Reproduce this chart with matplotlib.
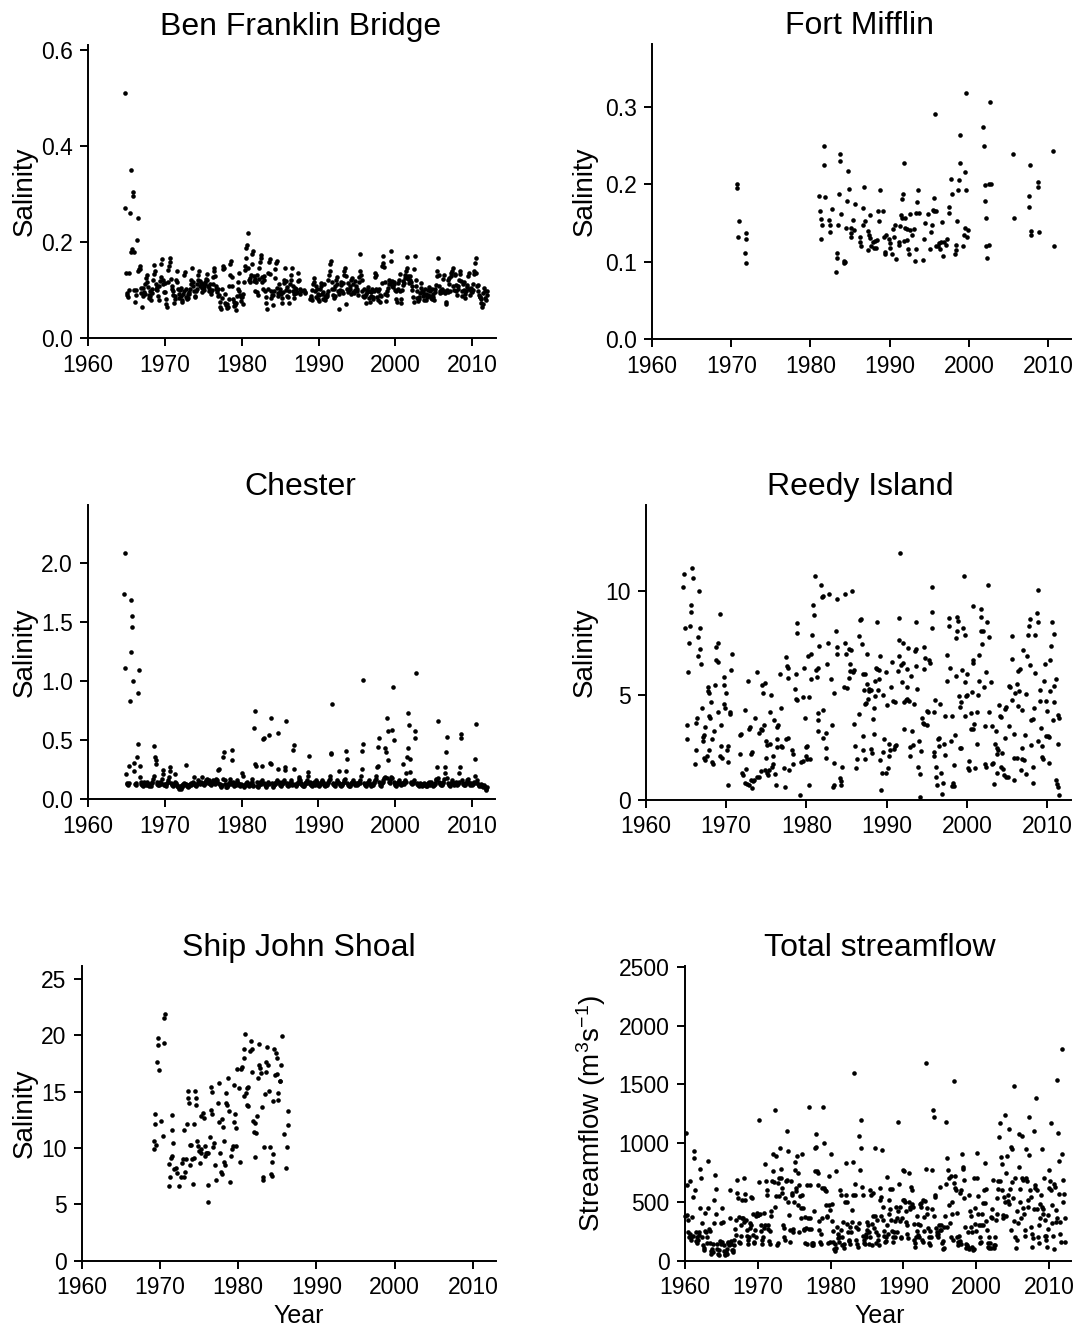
import numpy as np
import matplotlib
matplotlib.use('Agg')
import matplotlib.pyplot as plt

plt.rcParams['font.family'] = ['Liberation Sans', 'DejaVu Sans']
plt.rcParams['mathtext.fontset'] = 'custom'
plt.rcParams['mathtext.rm'] = 'Liberation Sans'
plt.rcParams['mathtext.it'] = 'Liberation Sans:italic'
plt.rcParams['mathtext.default'] = 'regular'

nan = np.nan

# ---------------- Ben Franklin Bridge (monthly rows, Jan..Dec) ----------------
bfb_years = list(range(1964, 2012))
bfb_sal = [
    [nan, nan, nan, nan, nan, nan, nan, nan, nan, 0.51, 0.27, 0.135],
    [0.095, 0.09, 0.085, 0.1, 0.135, 0.26, 0.18, 0.35, 0.185, 0.305, 0.295, 0.18],
    [0.1, 0.075, 0.09, 0.1, 0.205, 0.14, 0.25, 0.145, 0.15, 0.145, 0.105, 0.095],
    [0.065, 0.088, 0.104, 0.097, 0.093, 0.112, 0.125, 0.132, 0.118, 0.106, 0.091, 0.083],
    [0.098, 0.087, 0.079, 0.094, 0.103, 0.121, 0.133, 0.152, 0.141, 0.112, 0.102, 0.107],
    [0.101, 0.088, 0.079, 0.108, 0.119, 0.128, 0.155, 0.165, 0.122, 0.113, 0.097, 0.116],
    [0.097, 0.081, 0.071, 0.066, 0.118, 0.142, 0.151, 0.166, 0.159, 0.123, 0.102, 0.109],
    [0.098, 0.091, 0.074, 0.082, 0.089, 0.121, 0.141, 0.118, 0.103, 0.092, 0.084, 0.101],
    [0.104, 0.088, 0.076, 0.079, 0.092, 0.099, 0.131, 0.138, 0.102, 0.086, 0.081, 0.093],
    [0.084, 0.092, 0.097, 0.103, 0.112, 0.121, 0.146, 0.118, 0.108, 0.098, 0.089, 0.086],
    [0.099, 0.112, 0.102, 0.121, 0.131, 0.141, 0.119, 0.108, 0.116, 0.097, 0.104, 0.113],
    [0.101, 0.106, 0.112, 0.118, 0.123, 0.134, 0.121, 0.109, 0.098, 0.104, 0.113, 0.099],
    [0.092, 0.101, 0.112, 0.128, 0.139, 0.146, 0.129, 0.103, 0.108, 0.097, 0.089, 0.102],
    [0.091, 0.076, 0.066, 0.061, 0.084, 0.102, 0.144, 0.151, 0.146, 0.092, 0.074, 0.069],
    [0.071, 0.062, 0.066, 0.081, 0.108, 0.131, 0.155, 0.161, 0.128, 0.109, 0.082, 0.068],
    [0.076, 0.069, 0.059, 0.074, 0.088, 0.103, 0.118, 0.135, 0.098, 0.091, 0.077, 0.086],
    [0.086, 0.071, 0.092, 0.118, 0.143, 0.151, 0.166, 0.188, 0.195, 0.218, 0.146, 0.122],
    [0.118, 0.126, 0.131, 0.154, 0.176, 0.181, 0.129, 0.119, 0.124, 0.098, 0.117, 0.132],
    [0.097, 0.091, 0.124, 0.146, 0.158, 0.174, 0.166, 0.127, 0.118, 0.102, 0.129, 0.121],
    [0.099, 0.086, 0.074, 0.061, 0.103, 0.136, 0.159, 0.164, 0.134, 0.098, 0.083, 0.091],
    [0.069, 0.091, 0.098, 0.126, 0.144, 0.156, 0.161, 0.104, 0.088, 0.094, 0.112, 0.096],
    [0.103, 0.092, 0.084, 0.074, 0.097, 0.116, 0.122, 0.146, 0.119, 0.101, 0.089, 0.107],
    [0.086, 0.074, 0.098, 0.112, 0.121, 0.131, 0.146, 0.109, 0.099, 0.084, 0.092, 0.104],
    [0.094, 0.102, 0.097, 0.119, 0.136, 0.121, 0.103, 0.093, 0.099, nan, nan, nan],
    [nan, 0.101, 0.094, 0.097, nan, nan, nan, nan, nan, nan, 0.082, 0.087],
    [0.084, 0.079, 0.101, 0.112, 0.118, 0.126, 0.098, 0.109, 0.086, 0.103, 0.092, 0.081],
    [0.078, 0.091, 0.102, 0.108, 0.116, 0.093, 0.082, 0.097, 0.112, 0.089, 0.079, 0.086],
    [0.087, 0.092, 0.099, 0.122, 0.131, 0.141, 0.154, 0.161, 0.118, 0.102, 0.091, 0.084],
    [0.103, 0.088, 0.109, 0.121, 0.128, 0.113, 0.098, 0.061, 0.092, 0.101, 0.111, 0.118],
    [0.098, 0.094, 0.116, 0.131, 0.139, 0.146, 0.129, 0.071, 0.103, 0.096, 0.114, 0.101],
    [0.108, 0.102, 0.093, 0.121, 0.126, 0.112, 0.097, 0.094, 0.119, 0.101, 0.109, 0.098],
    [0.102, 0.091, 0.118, 0.128, 0.139, 0.176, 0.131, 0.121, 0.099, 0.088, 0.103, 0.086],
    [0.087, 0.074, 0.092, 0.096, 0.101, 0.106, 0.098, 0.084, 0.076, 0.089, 0.097, 0.102],
    [0.086, 0.081, 0.098, 0.128, 0.136, 0.131, 0.102, 0.086, 0.079, 0.099, 0.103, 0.091],
    [0.076, 0.088, 0.114, 0.151, 0.156, 0.171, 0.149, 0.117, 0.092, 0.077, 0.091, 0.099],
    [0.104, 0.112, 0.121, 0.116, 0.161, 0.181, 0.119, 0.109, 0.106, 0.112, 0.118, 0.101],
    [0.098, 0.081, 0.076, 0.102, 0.114, 0.121, 0.134, 0.099, 0.082, 0.074, 0.101, 0.111],
    [0.119, 0.114, 0.126, 0.131, 0.141, 0.146, 0.169, 0.129, 0.124, 0.116, 0.121, 0.129],
    [0.118, 0.109, 0.101, 0.086, 0.076, 0.144, 0.171, 0.121, 0.108, 0.098, 0.084, 0.077],
    [0.081, 0.086, 0.094, 0.104, 0.114, 0.099, 0.096, 0.087, 0.079, 0.091, 0.102, 0.093],
    [0.079, 0.086, 0.091, 0.101, 0.106, 0.098, 0.089, 0.084, 0.081, 0.103, 0.092, 0.086],
    [0.079, 0.096, 0.102, 0.111, 0.129, 0.141, 0.166, 0.131, 0.109, 0.098, 0.094, 0.101],
    [0.096, 0.102, 0.124, 0.131, 0.099, 0.094, 0.076, 0.071, 0.101, 0.096, 0.121, 0.126],
    [0.112, 0.098, 0.129, 0.136, 0.141, 0.146, 0.109, 0.101, 0.131, 0.134, 0.099, 0.111],
    [0.091, 0.102, 0.108, 0.121, 0.134, 0.141, 0.119, 0.098, 0.089, 0.112, 0.118, 0.101],
    [0.084, 0.092, 0.098, 0.106, 0.111, 0.129, 0.136, 0.102, 0.091, 0.099, 0.104, 0.097],
    [0.101, 0.112, 0.134, 0.141, 0.156, 0.166, 0.136, 0.109, 0.098, 0.111, 0.091, 0.086],
    [0.086, 0.081, 0.074, 0.066, 0.071, 0.094, 0.104, 0.098, 0.084, 0.079, 0.091, 0.099],
]

# ---------------- Fort Mifflin (year, salinity) ----------------
fm_pts = [
    (1970.73, 0.200), (1970.73, 0.195), (1970.94, 0.152), (1970.82, 0.132), (1971.83, 0.137), (1971.83, 0.129),
    (1971.70, 0.111), (1971.91, 0.099), (1981.09, 0.185), (1981.17, 0.165), (1981.30, 0.155), (1981.34, 0.129),
    (1981.51, 0.147), (1981.76, 0.250), (1981.67, 0.225), (1981.89, 0.183), (1982.35, 0.154), (1982.43, 0.148),
    (1982.43, 0.139), (1982.77, 0.168), (1983.19, 0.087), (1983.32, 0.111), (1983.32, 0.105), (1983.48, 0.147),
    (1983.61, 0.187), (1983.70, 0.239), (1983.70, 0.230), (1983.86, 0.162), (1984.20, 0.101), (1984.20, 0.098),
    (1984.33, 0.100), (1984.54, 0.144), (1984.66, 0.179), (1984.71, 0.217), (1984.83, 0.194), (1985.17, 0.143),
    (1985.17, 0.137), (1985.17, 0.132), (1985.38, 0.154), (1985.59, 0.175), (1985.51, 0.141), (1986.22, 0.132),
    (1986.31, 0.125), (1986.43, 0.120), (1986.60, 0.147), (1986.68, 0.170), (1986.77, 0.197), (1986.85, 0.153),
    (1987.23, 0.140), (1987.27, 0.115), (1987.36, 0.134), (1987.48, 0.160), (1987.57, 0.131), (1987.69, 0.120),
    (1987.86, 0.126), (1987.99, 0.118), (1988.16, 0.127), (1988.28, 0.118), (1988.41, 0.128), (1988.54, 0.165),
    (1988.62, 0.153), (1988.75, 0.193), (1989.12, 0.165), (1989.25, 0.132), (1989.38, 0.112), (1989.38, 0.110),
    (1989.55, 0.135), (1989.88, 0.129), (1990.05, 0.124), (1990.01, 0.118), (1990.30, 0.110), (1990.39, 0.142),
    (1990.51, 0.132), (1990.68, 0.148), (1990.77, 0.103), (1991.14, 0.122), (1991.23, 0.125), (1991.31, 0.146),
    (1991.44, 0.160), (1991.57, 0.157), (1991.61, 0.181), (1991.69, 0.187), (1991.78, 0.228), (1991.82, 0.127),
    (1991.94, 0.144), (1991.99, 0.157), (1992.20, 0.142), (1992.24, 0.128), (1992.32, 0.116), (1992.41, 0.110),
    (1992.53, 0.141), (1992.62, 0.162), (1992.79, 0.135), (1993.04, 0.142), (1993.21, 0.101), (1993.29, 0.116),
    (1993.38, 0.163), (1993.50, 0.177), (1993.59, 0.193), (1993.67, 0.163), (1994.22, 0.102), (1994.34, 0.129),
    (1994.43, 0.150), (1994.85, 0.162), (1995.10, 0.116), (1995.19, 0.139), (1995.31, 0.148), (1995.44, 0.167),
    (1995.56, 0.182), (1995.65, 0.165), (1995.69, 0.291), (1995.82, 0.165), (1995.90, 0.121), (1996.11, 0.120),
    (1996.24, 0.124), (1996.41, 0.117), (1996.49, 0.125), (1996.62, 0.151), (1996.74, 0.107), (1996.91, 0.125),
    (1997.16, 0.122), (1997.29, 0.129), (1997.46, 0.163), (1997.54, 0.171), (1997.71, 0.207), (1997.84, 0.188),
    (1998.30, 0.110), (1998.38, 0.115), (1998.43, 0.122), (1998.51, 0.152), (1998.64, 0.193), (1998.76, 0.206),
    (1998.85, 0.228), (1998.93, 0.264), (1999.23, 0.121), (1999.35, 0.134), (1999.48, 0.143), (1999.52, 0.216),
    (1999.65, 0.192), (1999.60, 0.318), (1999.77, 0.132), (1999.94, 0.141), (2001.84, 0.274), (2001.92, 0.250),
    (2002.00, 0.199), (2002.09, 0.179), (2002.17, 0.156), (2002.21, 0.120), (2002.34, 0.105), (2002.51, 0.122),
    (2002.59, 0.200), (2002.72, 0.306), (2002.80, 0.200), (2005.58, 0.239), (2005.71, 0.157), (2007.73, 0.225),
    (2007.64, 0.185), (2007.60, 0.171), (2007.85, 0.140), (2007.81, 0.135), (2008.74, 0.203), (2008.70, 0.196),
    (2008.86, 0.139), (2010.59, 0.243), (2010.72, 0.120),
]

# ---------------- Chester (monthly rows, Jan..Dec) ----------------
ch_years = list(range(1964, 2012))
ch_sal = [
    [nan, nan, nan, nan, nan, nan, nan, nan, 1.74, 2.08, 1.11, 0.215],
    [0.135, 0.13, 0.12, 0.14, 0.28, 0.83, 1.25, 1.69, 1.55, 1.46, 1.0, 0.31],
    [0.24, 0.13, 0.12, 0.14, 0.36, 0.47, 0.9, 1.09, 0.28, 0.19, 0.15, 0.13],
    [0.12, 0.11, 0.13, 0.15, 0.14, 0.13, 0.12, 0.14, 0.15, 0.13, 0.12, 0.11],
    [0.12, 0.13, 0.11, 0.14, 0.15, 0.17, 0.2, 0.45, 0.36, 0.33, 0.3, 0.15],
    [0.13, 0.12, 0.14, 0.12, 0.15, 0.14, 0.13, 0.17, 0.21, 0.25, 0.13, 0.12],
    [0.12, 0.11, 0.13, 0.14, 0.15, 0.16, 0.19, 0.24, 0.27, 0.14, 0.12, 0.13],
    [0.12, 0.11, 0.13, 0.15, 0.21, 0.14, 0.12, 0.11, 0.1, 0.09, 0.1, 0.11],
    [0.1, 0.09, 0.1, 0.12, 0.13, 0.14, 0.12, 0.13, 0.29, 0.13, 0.11, 0.12],
    [0.1, 0.11, 0.12, 0.13, 0.14, 0.12, 0.13, 0.15, 0.14, 0.19, 0.13, 0.12],
    [0.11, 0.12, 0.13, 0.14, 0.16, 0.15, 0.14, 0.13, 0.15, 0.19, 0.14, 0.13],
    [0.12, 0.13, 0.14, 0.15, 0.16, 0.17, 0.15, 0.14, 0.16, 0.15, 0.13, 0.12],
    [0.13, 0.14, 0.15, 0.16, 0.15, 0.14, 0.13, 0.15, 0.17, 0.16, 0.25, 0.14],
    [0.26, 0.13, 0.12, 0.11, 0.1, 0.12, 0.17, 0.36, 0.4, 0.16, 0.13, 0.1],
    [0.11, 0.1, 0.12, 0.13, 0.14, 0.15, 0.17, 0.13, 0.33, 0.42, 0.15, 0.12],
    [0.11, 0.13, 0.12, 0.14, 0.15, 0.16, 0.14, 0.13, 0.12, 0.11, 0.13, 0.12],
    [0.22, 0.2, 0.12, 0.11, 0.1, 0.12, 0.13, 0.14, 0.15, 0.13, 0.12, 0.11],
    [0.12, 0.13, 0.14, 0.15, 0.17, 0.12, 0.11, 0.6, 0.75, 0.3, 0.28, 0.15],
    [0.11, 0.1, 0.12, 0.13, 0.15, 0.14, 0.13, 0.16, 0.28, 0.51, 0.52, 0.14],
    [0.12, 0.1, 0.11, 0.13, 0.14, 0.15, 0.13, 0.54, 0.31, 0.69, 0.3, 0.14],
    [0.11, 0.1, 0.12, 0.14, 0.13, 0.15, 0.14, 0.16, 0.26, 0.56, 0.15, 0.13],
    [0.12, 0.11, 0.13, 0.15, 0.14, 0.16, 0.15, 0.27, 0.25, 0.66, 0.14, 0.12],
    [0.11, 0.12, 0.13, 0.14, 0.15, 0.16, 0.13, 0.12, 0.42, 0.46, 0.26, 0.13],
    [0.12, 0.11, 0.13, 0.14, 0.15, 0.17, 0.19, 0.16, 0.14, 0.13, 0.12, 0.11],
    [0.12, 0.11, 0.13, 0.14, 0.15, 0.16, 0.14, 0.2, 0.23, 0.37, 0.15, 0.13],
    [0.12, 0.11, 0.13, 0.14, 0.15, 0.13, 0.12, 0.14, 0.16, 0.15, 0.13, 0.12],
    [0.11, 0.12, 0.13, 0.14, 0.15, 0.16, 0.15, 0.14, 0.13, 0.12, 0.11, 0.12],
    [0.13, 0.12, 0.14, 0.15, 0.16, 0.17, 0.2, 0.38, 0.39, 0.81, 0.14, 0.13],
    [0.12, 0.11, 0.13, 0.14, 0.15, 0.16, 0.15, 0.24, 0.14, 0.13, 0.12, 0.11],
    [0.12, 0.13, 0.14, 0.15, 0.16, 0.17, 0.24, 0.41, 0.34, 0.14, 0.12, 0.11],
    [0.12, 0.11, 0.13, 0.14, 0.15, 0.16, 0.15, 0.14, 0.13, 0.12, 0.14, 0.13],
    [0.12, 0.13, 0.14, 0.15, 0.14, 0.16, 0.2, 0.26, 0.41, 0.47, 1.01, 0.14],
    [0.13, 0.12, 0.11, 0.13, 0.14, 0.15, 0.16, 0.14, 0.13, 0.12, 0.11, 0.12],
    [0.13, 0.12, 0.14, 0.15, 0.16, 0.17, 0.2, 0.27, 0.28, 0.44, 0.52, 0.15],
    [0.12, 0.11, 0.13, 0.14, 0.15, 0.16, 0.18, 0.19, 0.43, 0.4, 0.18, 0.69],
    [0.58, 0.33, 0.15, 0.14, 0.16, 0.19, 0.18, 0.59, 0.95, 0.5, 0.15, 0.13],
    [0.12, 0.11, 0.13, 0.14, 0.15, 0.16, 0.14, 0.13, 0.12, 0.14, 0.13, 0.3],
    [0.14, 0.13, 0.15, 0.16, 0.15, 0.22, 0.36, 0.43, 0.73, 0.63, 0.34, 0.23],
    [0.15, 0.14, 0.13, 0.14, 0.15, 0.16, 0.58, 0.52, 1.07, 0.14, 0.13, 0.12],
    [0.12, 0.11, 0.13, 0.14, 0.12, 0.11, 0.13, 0.12, 0.14, 0.13, 0.12, 0.11],
    [0.12, 0.11, 0.13, 0.14, 0.15, 0.13, 0.12, 0.14, 0.15, 0.13, 0.12, 0.11],
    [0.12, 0.13, 0.14, 0.16, 0.17, 0.27, 0.66, 0.18, 0.15, 0.14, 0.13, 0.12],
    [0.12, 0.13, 0.14, 0.15, 0.17, 0.22, 0.27, 0.4, 0.53, 0.18, 0.14, 0.13],
    [0.12, 0.11, 0.13, 0.14, 0.15, 0.16, 0.14, 0.13, 0.12, 0.14, 0.15, 0.13],
    [0.12, 0.13, 0.14, 0.15, 0.22, 0.27, 0.52, 0.55, 0.16, 0.14, 0.13, 0.12],
    [0.13, 0.12, 0.14, 0.15, 0.16, 0.17, 0.15, 0.14, 0.13, 0.12, 0.14, 0.13],
    [0.12, 0.13, 0.14, 0.15, 0.2, 0.34, 0.64, 0.16, 0.14, 0.13, 0.12, 0.11],
    [0.12, 0.11, 0.13, 0.12, 0.11, 0.1, 0.12, 0.11, 0.1, 0.09, 0.08, 0.1],
]

# ---------------- Reedy Island (year, salinity) ----------------
ri_pts = [
    (1964.7, 10.2), (1964.8, 10.8), (1964.9, 8.2), (1965.2, 3.6), (1965.1, 2.9), (1965.3, 6.1), (1965.4, 7.5),
    (1965.5, 8.3), (1965.7, 9.0), (1965.7, 9.3), (1965.8, 11.1), (1965.9, 10.6), (1966.1, 1.7), (1966.3, 2.4),
    (1966.3, 3.7), (1966.4, 3.9), (1966.5, 6.9), (1966.5, 7.8), (1966.6, 10.0), (1966.7, 8.2), (1966.8, 7.2),
    (1966.9, 6.5), (1967.0, 4.4), (1967.1, 3.0), (1967.2, 3.1), (1967.1, 2.8), (1967.3, 2.0), (1967.4, 1.9),
    (1967.4, 3.5), (1967.6, 2.1), (1967.7, 5.4), (1967.7, 5.2), (1967.9, 5.1), (1967.9, 4.0), (1968.0, 3.9),
    (1967.9, 2.4), (1968.1, 4.7), (1968.2, 2.9), (1968.3, 1.8), (1968.4, 1.7), (1968.5, 3.3), (1968.6, 5.5),
    (1968.7, 7.3), (1969.0, 7.5), (1968.8, 6.7), (1969.0, 6.6), (1969.0, 4.2), (1969.2, 8.9), (1969.3, 2.1),
    (1969.5, 2.0), (1969.4, 3.6), (1969.4, 2.6), (1969.7, 5.9), (1969.8, 4.6), (1969.9, 4.4), (1969.8, 5.5),
    (1970.0, 5.1), (1970.1, 2.4), (1970.3, 2.6), (1970.3, 0.7), (1970.3, 1.8), (1970.5, 4.1), (1970.5, 4.2),
    (1970.6, 6.2), (1970.7, 7.0), (1971.7, 2.2), (1971.8, 3.1), (1971.9, 3.15), (1972.0, 1.3), (1972.1, 1.2),
    (1972.4, 4.3), (1972.5, 1.5), (1972.4, 0.8), (1972.6, 0.75), (1972.7, 5.7), (1972.9, 3.4), (1973.0, 3.5),
    (1972.9, 0.7), (1973.1, 0.95), (1973.2, 0.55), (1973.1, 2.2), (1973.2, 2.3), (1973.4, 0.9), (1973.5, 0.95),
    (1973.6, 3.9), (1973.8, 6.1), (1973.9, 1.1), (1974.1, 1.1), (1974.1, 3.2), (1974.3, 3.4), (1974.5, 3.35),
    (1974.5, 5.5), (1974.8, 5.6), (1974.6, 5.1), (1974.4, 1.4), (1974.8, 1.45), (1974.7, 3.6), (1975.0, 2.0),
    (1975.0, 2.8), (1975.1, 1.3), (1975.2, 1.2), (1975.4, 1.45), (1975.1, 2.65), (1975.5, 2.7), (1975.6, 5.0),
    (1975.5, 4.2), (1975.7, 1.6), (1975.8, 1.7), (1975.8, 2.1), (1976.0, 3.8), (1976.2, 0.7), (1976.1, 1.25),
    (1976.3, 2.55), (1976.4, 2.9), (1976.4, 3.5), (1976.5, 3.6), (1976.7, 6.0), (1976.8, 4.4), (1976.8, 2.6),
    (1977.0, 2.55), (1977.2, 1.55), (1977.4, 0.6), (1977.5, 2.9), (1977.7, 2.95), (1977.5, 6.85), (1977.6, 6.4),
    (1977.7, 6.3), (1977.7, 5.85), (1977.9, 1.45), (1978.2, 2.4), (1978.4, 2.2), (1978.3, 1.7), (1978.7, 6.0),
    (1978.6, 5.3), (1978.7, 4.85), (1978.9, 4.8), (1978.8, 8.45), (1978.9, 8.0), (1979.2, 0.25), (1979.4, 1.8),
    (1979.6, 1.85), (1979.6, 4.9), (1979.7, 6.3), (1979.8, 3.9), (1979.9, 2.55), (1980.1, 2.6), (1980.0, 2.1),
    (1980.1, 1.95), (1980.2, 6.9), (1980.6, 7.0), (1980.3, 4.9), (1980.3, 0.7), (1980.4, 1.95), (1980.6, 5.8),
    (1980.7, 7.9), (1980.8, 9.3), (1980.9, 8.85), (1981.1, 10.7), (1981.2, 6.2), (1981.5, 6.3), (1981.3, 5.9),
    (1981.4, 4.15), (1981.5, 3.8), (1981.4, 3.3), (1981.6, 7.35), (1981.8, 10.3), (1981.9, 9.7), (1982.1, 9.75),
    (1982.1, 4.3), (1982.1, 2.95), (1982.4, 2.5), (1982.5, 2.0), (1982.5, 3.2), (1982.6, 6.5), (1982.7, 7.5),
    (1982.8, 9.85), (1983.1, 5.8), (1983.2, 3.6), (1983.3, 0.6), (1983.4, 0.7), (1983.5, 5.1), (1983.4, 1.75),
    (1983.7, 8.1), (1983.8, 9.6), (1983.8, 7.0), (1983.8, 7.3), (1984.2, 1.05), (1984.3, 0.7), (1984.3, 0.9),
    (1984.5, 1.6), (1984.7, 5.4), (1985.1, 5.35), (1984.8, 7.5), (1984.8, 9.85), (1985.0, 7.0), (1985.3, 7.2),
    (1985.6, 7.15), (1985.3, 5.85), (1985.5, 6.15), (1985.4, 6.5), (1985.7, 10.0), (1985.8, 6.1), (1985.9, 6.2),
    (1986.0, 3.65), (1986.1, 2.6), (1986.2, 1.55), (1986.3, 1.95), (1986.5, 4.1), (1986.6, 7.85), (1986.7, 8.6),
    (1986.8, 8.65), (1986.9, 7.45), (1987.0, 2.4), (1987.1, 3.05), (1987.1, 6.0), (1987.3, 6.0), (1987.2, 5.25),
    (1987.3, 4.6), (1987.4, 4.65), (1987.3, 1.95), (1987.6, 5.55), (1987.6, 7.0), (1987.7, 4.85), (1987.8, 5.2),
    (1987.8, 5.3), (1988.0, 5.25), (1988.1, 2.45), (1988.2, 2.25), (1988.3, 3.85), (1988.4, 3.15), (1988.4, 4.4),
    (1988.5, 5.7), (1988.6, 4.95), (1988.7, 6.3), (1988.8, 6.25), (1988.8, 8.5), (1988.9, 5.25), (1989.0, 5.8),
    (1989.1, 6.2), (1989.2, 6.9), (1989.2, 1.9), (1989.3, 0.5), (1989.4, 1.3), (1989.5, 2.3), (1989.6, 5.0),
    (1989.7, 2.9), (1989.9, 6.1), (1989.9, 1.3), (1990.0, 4.55), (1990.2, 1.55), (1990.3, 2.7), (1990.3, 2.1),
    (1990.4, 2.4), (1990.6, 5.4), (1990.7, 6.6), (1990.8, 4.75), (1991.0, 4.7), (1990.9, 2.45), (1991.1, 2.6),
    (1991.2, 2.65), (1991.4, 6.15), (1991.5, 6.9), (1991.6, 8.7), (1991.7, 11.8), (1991.6, 7.65), (1991.8, 6.45),
    (1992.0, 6.55), (1991.9, 5.65), (1992.1, 7.5), (1992.2, 4.7), (1992.2, 3.4), (1992.4, 4.8), (1992.5, 4.85),
    (1992.6, 6.25), (1992.6, 5.4), (1992.7, 7.25), (1992.8, 4.75), (1992.9, 2.1), (1992.9, 2.55), (1993.0, 5.95),
    (1993.1, 3.3), (1993.3, 2.65), (1993.4, 4.6), (1993.5, 7.1), (1993.6, 8.5), (1993.6, 7.2), (1993.7, 6.4),
    (1993.8, 5.3), (1993.9, 1.6), (1994.0, 2.8), (1994.1, 1.25), (1994.2, 0.15), (1994.3, 2.35), (1994.4, 3.9),
    (1994.5, 3.7), (1994.6, 3.65), (1994.7, 6.25), (1994.7, 7.3), (1994.8, 6.8), (1995.0, 3.6), (1995.0, 4.25),
    (1995.2, 4.2), (1995.3, 6.7), (1995.4, 6.55), (1995.6, 9.0), (1995.7, 10.2), (1995.7, 8.2), (1995.9, 4.2),
    (1995.9, 2.3), (1995.9, 2.1), (1996.0, 4.8), (1996.1, 1.6), (1996.2, 1.1), (1996.3, 0.7), (1996.4, 2.9),
    (1996.5, 2.95), (1996.5, 2.6), (1996.6, 4.6), (1996.8, 1.3), (1996.9, 0.3), (1997.0, 0.8), (1997.1, 2.7),
    (1997.3, 2.15), (1997.3, 4.0), (1997.5, 5.7), (1997.5, 6.95), (1997.8, 8.7), (1997.8, 8.3), (1997.9, 6.3),
    (1998.0, 2.8), (1998.1, 4.0), (1998.2, 0.65), (1998.3, 0.8), (1998.4, 0.65), (1998.4, 1.65), (1998.5, 3.1),
    (1998.7, 5.95), (1998.7, 7.75), (1998.8, 8.1), (1998.8, 8.75), (1998.9, 8.55), (1999.0, 4.95), (1999.1, 2.5),
    (1999.3, 2.5), (1999.2, 4.45), (1999.3, 4.7), (1999.4, 6.2), (1999.5, 8.2), (1999.6, 10.7), (1999.7, 7.9),
    (1999.8, 4.0), (1999.8, 5.65), (1999.9, 4.95), (2000.0, 5.0), (2000.0, 6.0), (2000.1, 1.55), (2000.2, 1.45),
    (2000.3, 1.85), (2000.5, 3.4), (2000.7, 3.4), (2000.5, 4.15), (2000.6, 5.15), (2000.7, 6.7), (2000.8, 6.55),
    (2000.7, 9.25), (2000.9, 3.65), (2001.0, 1.55), (2001.2, 4.2), (2001.3, 2.7), (2001.4, 5.0), (2001.5, 5.7),
    (2001.5, 6.95), (2001.7, 9.15), (2001.8, 8.75), (2001.8, 8.1), (2002.0, 8.1), (2001.9, 7.45), (2002.1, 5.4),
    (2002.2, 3.55), (2002.3, 1.7), (2002.4, 1.6), (2002.4, 6.1), (2002.5, 8.5), (2002.6, 10.3), (2002.7, 7.8),
    (2002.8, 4.2), (2003.0, 5.65), (2003.1, 3.55), (2003.1, 1.7), (2003.3, 1.75), (2003.4, 0.75), (2003.5, 2.7),
    (2003.6, 3.3), (2003.7, 2.5), (2003.8, 1.3), (2003.8, 2.2), (2003.9, 2.4), (2004.0, 4.55), (2004.1, 4.0),
    (2004.3, 3.95), (2004.2, 1.6), (2004.4, 2.25), (2004.5, 1.5), (2004.6, 1.2), (2004.9, 1.1), (2005.1, 1.1),
    (2004.7, 2.95), (2004.8, 4.35), (2004.9, 4.45), (2005.2, 5.45), (2005.3, 3.55), (2005.4, 5.4), (2005.6, 6.75),
    (2005.6, 7.85), (2005.6, 4.8), (2005.8, 3.15), (2005.9, 2.0), (2006.2, 2.0), (2005.8, 0.95), (2006.0, 5.1),
    (2006.2, 5.55), (2006.3, 6.15), (2006.4, 4.5), (2006.5, 5.2), (2006.6, 6.25), (2006.7, 1.45), (2006.8, 2.5),
    (2006.8, 4.3), (2006.8, 1.95), (2007.0, 7.15), (2007.1, 1.9), (2007.2, 3.1), (2007.3, 1.25), (2007.4, 5.05),
    (2007.5, 6.9), (2007.6, 7.9), (2007.7, 8.3), (2007.8, 8.65), (2007.9, 6.45), (2008.0, 3.8), (2008.2, 3.85),
    (2008.0, 2.65), (2008.2, 0.8), (2008.2, 1.6), (2008.4, 4.4), (2008.5, 6.05), (2008.5, 7.9), (2008.7, 8.95),
    (2008.8, 10.05), (2008.8, 8.5), (2008.9, 2.8), (2009.1, 4.75), (2009.1, 5.25), (2009.2, 3.45), (2009.3, 2.6),
    (2009.3, 2.05), (2009.5, 1.95), (2009.6, 5.7), (2009.7, 6.5), (2009.8, 3.05), (2009.9, 4.75), (2010.0, 4.25),
    (2010.1, 3.05), (2010.2, 3.0), (2010.2, 1.75), (2010.3, 6.7), (2010.4, 5.2), (2010.5, 7.35), (2010.6, 8.5),
    (2010.7, 3.8), (2010.8, 5.45), (2010.9, 4.7), (2010.9, 7.95), (2011.1, 5.8), (2011.1, 0.95), (2011.2, 0.75),
    (2011.3, 0.6), (2011.5, 0.25), (2011.3, 2.7), (2011.4, 4.05), (2011.5, 3.9),
]

# ---------------- Ship John Shoal (year, salinity) ----------------
sjs_pts = [
    (1969.2, 9.9), (1969.3, 10.65), (1969.5, 10.3), (1969.4, 13.0), (1969.4, 12.1), (1969.6, 17.6), (1969.7, 19.8),
    (1969.8, 19.1), (1969.9, 16.9), (1970.1, 12.4), (1970.4, 11.1), (1970.5, 19.35), (1970.6, 21.9), (1970.5, 21.5),
    (1971.2, 6.65), (1971.3, 7.4), (1971.2, 8.55), (1971.4, 9.15), (1971.6, 9.3), (1971.5, 12.9), (1971.6, 11.6),
    (1971.7, 10.4), (1971.8, 8.15), (1972.0, 8.25), (1972.2, 7.8), (1972.4, 6.65), (1972.7, 7.4), (1973.1, 7.4),
    (1972.8, 8.65), (1973.0, 9.0), (1973.1, 11.6), (1973.2, 7.9), (1973.3, 9.0), (1973.5, 12.1), (1973.6, 14.45),
    (1973.6, 15.1), (1973.7, 14.0), (1973.8, 10.3), (1973.9, 8.45), (1974.0, 10.3), (1974.1, 9.0), (1974.2, 6.85),
    (1974.3, 9.1), (1974.4, 12.1), (1974.5, 15.05), (1974.6, 14.4), (1974.6, 13.8), (1974.7, 10.6), (1974.8, 10.2),
    (1975.0, 9.75), (1975.1, 8.65), (1975.2, 9.9), (1975.3, 12.8), (1975.3, 9.55), (1975.5, 13.15), (1975.6, 12.7),
    (1975.7, 9.25), (1975.8, 10.2), (1975.9, 9.6), (1976.0, 9.6), (1976.1, 5.2), (1976.2, 6.7), (1976.2, 9.6),
    (1976.4, 11.0), (1976.5, 13.4), (1976.5, 15.4), (1976.6, 15.0), (1976.7, 13.0), (1976.8, 10.1), (1976.9, 10.4),
    (1977.0, 8.45), (1977.1, 7.2), (1977.4, 13.95), (1977.5, 15.8), (1977.6, 12.35), (1977.7, 9.6), (1977.8, 7.9),
    (1977.9, 7.7), (1977.9, 12.6), (1978.1, 11.85), (1978.2, 10.6), (1978.2, 8.75), (1978.3, 8.45), (1978.4, 13.95),
    (1978.5, 14.9), (1978.6, 13.8), (1978.7, 16.25), (1978.8, 13.3), (1979.0, 7.0), (1979.1, 9.3), (1979.2, 9.9),
    (1979.3, 10.2), (1979.4, 12.3), (1979.5, 15.6), (1979.6, 13.0), (1979.7, 11.8), (1979.7, 10.2), (1979.9, 17.0),
    (1980.1, 15.35), (1980.2, 8.75), (1980.3, 17.0), (1980.5, 17.2), (1980.7, 14.6), (1980.8, 18.8), (1980.8, 18.0),
    (1980.9, 20.1), (1981.0, 14.85), (1981.1, 15.35), (1981.1, 13.8), (1981.2, 13.7), (1981.3, 15.45), (1981.5, 18.6),
    (1981.6, 19.5), (1981.7, 18.75), (1981.8, 16.7), (1981.9, 12.4), (1982.0, 11.45), (1982.2, 9.2), (1982.2, 12.2),
    (1982.3, 11.3), (1982.4, 12.85), (1982.5, 16.25), (1982.6, 19.2), (1982.7, 17.35), (1982.8, 17.1), (1982.9, 16.65),
    (1983.1, 13.65), (1983.2, 7.45), (1983.2, 7.15), (1983.3, 10.05), (1983.4, 14.75), (1983.5, 16.7), (1983.6, 17.6),
    (1983.7, 19.0), (1983.8, 17.35), (1983.9, 15.1), (1984.1, 10.05), (1984.2, 7.7), (1984.3, 7.5), (1984.3, 8.75),
    (1984.4, 9.5), (1984.5, 14.15), (1984.6, 18.75), (1984.7, 16.45), (1984.8, 18.45), (1984.9, 16.6), (1985.0, 18.0),
    (1985.1, 14.9), (1985.1, 14.25), (1985.3, 15.95), (1985.4, 15.95), (1985.5, 17.35), (1985.6, 19.9), (1985.9, 11.2),
    (1986.1, 8.25), (1986.2, 10.05), (1986.3, 12.0), (1986.4, 13.3),
]

# ---------------- Total streamflow (monthly rows, Jan..Dec, m3/s) ----------------
sf_years = list(range(1960, 2013))
sf_flow = [
    [380, 1090, 640, 390, 350, 240, 200, 680, 230, 180, 200, 370],
    [210, 540, 930, 870, 600, 240, 170, 150, 200, 180, 220, 240],
    [450, 780, 700, 320, 200, 130, 90, 110, 410, 250, 240, 200],
    [150, 850, 450, 270, 250, 150, 80, 60, 100, 70, 140, 520],
    [320, 730, 610, 400, 140, 100, 60, 90, 50, 170, 140, 320],
    [450, 160, 330, 130, 80, 60, 50, 70, 60, 100, 150, 160],
    [130, 600, 360, 170, 140, 90, 70, 90, 130, 180, 270, 350],
    [220, 690, 580, 530, 370, 160, 150, 300, 210, 360, 520, 360],
    [330, 700, 570, 520, 350, 260, 210, 140, 180, 200, 280, 320],
    [300, 540, 530, 400, 220, 150, 160, 260, 200, 380, 410, 390],
    [390, 1200, 670, 400, 300, 250, 180, 140, 200, 280, 410, 300],
    [820, 680, 600, 560, 300, 270, 170, 140, 250, 380, 420, 680],
    [760, 910, 670, 1280, 460, 890, 550, 130, 150, 660, 700, 550],
    [960, 780, 700, 620, 580, 300, 200, 280, 180, 530, 680, 1100],
    [690, 930, 500, 390, 260, 160, 680, 580, 560, 240, 270, 500],
    [840, 770, 620, 590, 890, 750, 470, 240, 640, 550, 450, 360],
    [910, 560, 450, 270, 260, 150, 370, 280, 640, 140, 360, 270],
    [1310, 640, 360, 270, 150, 130, 150, 130, 420, 760, 960, 970],
    [1080, 760, 750, 640, 340, 260, 160, 230, 140, 360, 620, 1310],
    [1000, 620, 600, 590, 470, 380, 370, 150, 720, 470, 430, 160],
    [910, 480, 340, 250, 160, 100, 80, 140, 110, 760, 290, 190],
    [230, 200, 160, 600, 560, 260, 130, 200, 330, 140, 110, 500],
    [830, 560, 500, 310, 240, 170, 180, 140, 290, 240, 330, 430],
    [840, 560, 1600, 650, 560, 290, 180, 140, 120, 270, 320, 1060],
    [770, 960, 1200, 630, 560, 210, 180, 150, 140, 230, 200, 260],
    [330, 300, 240, 140, 200, 600, 560, 310, 130, 580, 380, 280],
    [960, 380, 240, 150, 350, 220, 180, 130, 620, 520, 380, 540],
    [940, 460, 350, 250, 210, 160, 170, 200, 710, 300, 230, 400],
    [520, 610, 440, 350, 610, 250, 200, 160, 240, 340, 200, 460],
    [360, 240, 420, 1180, 650, 460, 340, 190, 200, 360, 520, 770],
    [760, 520, 500, 420, 330, 230, 300, 190, 500, 750, 460, 440],
    [630, 600, 480, 460, 310, 180, 120, 150, 200, 250, 380, 310],
    [220, 200, 300, 480, 460, 490, 180, 160, 520, 370, 250, 510],
    [780, 1680, 450, 400, 280, 200, 150, 130, 250, 200, 770, 440],
    [1280, 1220, 380, 560, 540, 280, 240, 220, 230, 200, 300, 260],
    [630, 300, 260, 150, 100, 170, 110, 290, 380, 650, 1180, 290],
    [870, 770, 700, 470, 320, 200, 720, 500, 400, 180, 1530, 660],
    [620, 720, 600, 410, 200, 160, 130, 210, 170, 580, 600, 140],
    [910, 800, 780, 690, 530, 290, 140, 110, 130, 240, 120, 100],
    [560, 420, 380, 290, 240, 120, 90, 100, 700, 450, 310, 250],
    [920, 700, 550, 400, 300, 200, 150, 300, 160, 400, 490, 300],
    [600, 490, 830, 610, 340, 260, 120, 150, 110, 200, 150, 110],
    [370, 440, 360, 690, 130, 110, 130, 200, 350, 530, 400, 680],
    [610, 1050, 680, 1170, 880, 820, 600, 390, 360, 540, 500, 1240],
    [750, 380, 890, 560, 510, 480, 1120, 610, 260, 970, 950, 670],
    [530, 340, 1490, 700, 200, 110, 180, 420, 320, 1080, 800, 610],
    [500, 360, 1060, 700, 690, 450, 400, 260, 210, 950, 700, 680],
    [520, 460, 1220, 900, 600, 540, 290, 230, 120, 190, 440, 1100],
    [640, 620, 1380, 600, 440, 200, 150, 300, 360, 480, 560, 460],
    [950, 440, 400, 700, 350, 210, 210, 180, 120, 390, 270, 620],
    [770, 680, 1170, 600, 470, 320, 210, 100, 650, 630, 330, 430],
    [360, 1540, 1090, 850, 570, 330, 230, 160, 1800, 910, 690, 500],
    [570, 360, 160, nan, nan, nan, nan, nan, nan, nan, nan, nan],
]

xticks = [1960, 1970, 1980, 1990, 2000, 2010]


def monthly(years, rows):
    t, v = [], []
    for yr, row in zip(years, rows):
        for m, val in enumerate(row):
            if not np.isnan(val):
                t.append(yr + (m + 0.5) / 12.0)
                v.append(val)
    return t, v


def pairs(pts):
    return [p[0] for p in pts], [p[1] for p in pts]


W, H = 1085.0, 1330.0
fig = plt.figure(figsize=(W / 100, H / 100), dpi=100)


def make_ax(l, r, b, t):
    return fig.add_axes([l / W, 1 - b / H, (r - l) / W, (b - t) / H])


def style(ax, xmax, ymax, yticks, fmt):
    ax.set_xlim(1960, xmax)
    ax.set_ylim(0, ymax)
    for s in ['top', 'right']:
        ax.spines[s].set_visible(False)
    for s in ['left', 'bottom']:
        ax.spines[s].set_linewidth(1.4)
    ax.set_xticks(xticks)
    ax.set_yticks(yticks)
    ax.set_yticklabels([fmt.format(v) for v in yticks])
    ax.tick_params(direction='out', length=6, width=1.4, labelsize=16.5, pad=5, color='black')


def dots(ax, t, v):
    ax.plot(t, v, 'o', ms=3.3, mew=0, color='black', clip_on=False)


def labels(ax, title, tx, ylab, ylx, xlab=None, xlx=None, xly=None):
    ax.set_title(title, fontsize=23, pad=7.5, x=tx)
    ax.set_ylabel(ylab, fontsize=20)
    ax.yaxis.set_label_coords(ylx, 0.5)
    ax.yaxis.label.set_va('baseline')
    if xlab:
        ax.set_xlabel(xlab, fontsize=18)
        ax.xaxis.set_label_coords(xlx, xly)
        ax.xaxis.label.set_va('baseline')


# Panel 1: Ben Franklin Bridge
ax1 = make_ax(88, 496, 338.3, 45)
t, v = monthly(bfb_years, bfb_sal)
dots(ax1, t, v)
style(ax1, 2013.1, 0.61, [0.0, 0.2, 0.4, 0.6], '{:.1f}')
labels(ax1, 'Ben Franklin Bridge', 0.522, 'Salinity', -0.138)

# Panel 2: Fort Mifflin
ax2 = make_ax(652, 1071, 339.3, 44)
t, v = pairs(fm_pts)
dots(ax2, t, v)
style(ax2, 2012.9, 0.381, [0.0, 0.1, 0.2, 0.3], '{:.1f}')
labels(ax2, 'Fort Mifflin', 0.496, 'Salinity', -0.143)

# Panel 3: Chester
ax3 = make_ax(88, 495, 799.3, 505)
t, v = monthly(ch_years, ch_sal)
dots(ax3, t, v)
style(ax3, 2013.0, 2.49, [0.0, 0.5, 1.0, 1.5, 2.0], '{:.1f}')
labels(ax3, 'Chester', 0.522, 'Salinity', -0.138)

# Panel 4: Reedy Island
ax4 = make_ax(645.7, 1071, 800, 505)
t, v = pairs(ri_pts)
dots(ax4, t, v)
style(ax4, 2012.96, 14.1, [0, 5, 10], '{:d}')
labels(ax4, 'Reedy Island', 0.504, 'Salinity', -0.126)

# Panel 5: Ship John Shoal
ax5 = make_ax(81.7, 495.7, 1260.7, 966)
t, v = pairs(sjs_pts)
dots(ax5, t, v)
style(ax5, 2012.9, 26.15, [0, 5, 10, 15, 20, 25], '{:d}')
labels(ax5, 'Ship John Shoal', 0.525, 'Salinity', -0.121, 'Year', 0.525, -0.2114)

# Panel 6: Total streamflow
ax6 = make_ax(685, 1071, 1260.7, 966)
t, v = monthly(sf_years, sf_flow)
dots(ax6, t, v)
style(ax6, 2013.0, 2507, [0, 500, 1000, 1500, 2000, 2500], '{:d}')
labels(ax6, 'Total streamflow', 0.505, 'Streamflow (m$^{3}$s$^{-1}$)', -0.220, 'Year', 0.505, -0.2114)

fig.savefig('out.png', dpi=100)
